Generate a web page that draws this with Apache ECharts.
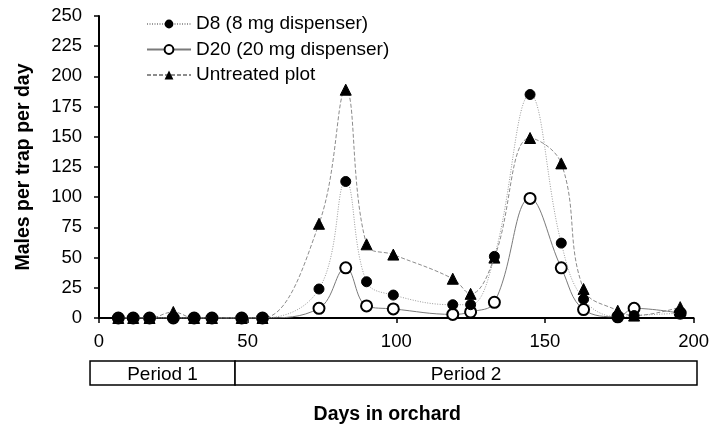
<!DOCTYPE html>
<html>
<head>
<meta charset="utf-8">
<script src="https://cdn.jsdelivr.net/npm/echarts@6/dist/echarts.min.js"></script>
<style>
  html, body { margin: 0; padding: 0; background: #fff; }
  #chart { width: 712px; height: 430px; }
</style>
</head>
<body>
<div id="chart"></div>
<script>
// Days of trap readings
const days = [6.5, 11.5, 17, 25, 32, 38, 48, 55, 74, 83, 90, 99, 119, 125, 133, 145, 155.5, 163, 174.5, 180, 195.5];
// Males per trap per day
const d8 = [0, 0, 0, 0, 0, 0, 0, 0, 24, 113, 30, 19, 11, 11, 51, 185, 62, 15.5, 1, 2, 4];
const d20 = [0, 0, 0, 0, 0, 0, 0, 0, 8, 41.5, 10, 7.5, 3, 5, 13, 99, 41.5, 7, 1, 8, 4];
const untreated = [0, 0, 0, 5, 0, 0, 0, 0, 78, 189, 61, 52.5, 32.5, 20, 50, 149, 128, 24, 6, 2, 9];
const seriesNames = ['D8 (8 mg dispenser)', 'D20 (20 mg dispenser)', 'Untreated plot'];
// Period bands along the day axis
const periodNames = ['Period 1', 'Period 2'];
const periodStart = [-3, 45.5];
const periodEnd = [45.5, 200];

const FONT = 'Liberation Sans, Arial, sans-serif';
const pair = (arr) => days.map((d, i) => [d, arr[i]]);

const chart = echarts.init(document.getElementById('chart'), null, { renderer: 'canvas' });

chart.setOption({
  animation: false,
  backgroundColor: '#ffffff',
  textStyle: { fontFamily: FONT },
  grid: [
    { left: 99, right: 15, top: 16, bottom: 112 },
    { left: 99, right: 15, top: 361, height: 24 }
  ],
  legend: {
    orient: 'vertical',
    left: 141,
    top: 9.5,
    itemWidth: 44,
    itemHeight: 11,
    itemGap: 6.5,
    data: seriesNames,
    textStyle: { fontFamily: FONT, fontSize: 19, color: '#000' }
  },
  xAxis: [
    {
      type: 'value', gridIndex: 0, min: 0, max: 200, interval: 50,
      name: 'Days in orchard', nameLocation: 'middle', nameGap: 87,
      nameTextStyle: { fontFamily: FONT, fontSize: 19.5, fontWeight: 'bold', color: '#000', padding: [0, 18, 0, 0] },
      axisLine: { show: true, onZero: false, lineStyle: { color: '#000', width: 2 } },
      axisTick: { show: true, length: 5, lineStyle: { color: '#000', width: 1.5 } },
      axisLabel: { fontFamily: FONT, fontSize: 18.5, color: '#000', margin: 14 },
      splitLine: { show: false }
    },
    { type: 'value', gridIndex: 1, min: 0, max: 200, show: false }
  ],
  yAxis: [
    {
      type: 'value', gridIndex: 0, min: 0, max: 250, interval: 25,
      name: 'Males per trap per day', nameLocation: 'middle', nameGap: 65,
      nameTextStyle: { fontFamily: FONT, fontSize: 19.5, fontWeight: 'bold', color: '#000' },
      axisLine: { show: true, lineStyle: { color: '#000', width: 2 } },
      axisTick: { show: true, length: 5, lineStyle: { color: '#000', width: 1.5 } },
      axisLabel: { fontFamily: FONT, fontSize: 18.5, color: '#000', margin: 17 },
      splitLine: { show: false }
    },
    { type: 'value', gridIndex: 1, min: 0, max: 1, show: false }
  ],
  series: [
    {
      name: seriesNames[2], type: 'line', xAxisIndex: 0, yAxisIndex: 0,
      data: pair(untreated), smooth: 0.4,
      symbol: 'triangle', symbolSize: 11,
      lineStyle: { color: '#8c8c8c', width: 1, type: [4, 2] },
      itemStyle: { color: '#000', borderColor: '#000' },
      z: 2
    },
    {
      name: seriesNames[1], type: 'line', xAxisIndex: 0, yAxisIndex: 0,
      data: pair(d20), smooth: 0.4,
      symbol: 'emptyCircle', symbolSize: 11,
      lineStyle: { color: '#7a7a7a', width: 1, type: 'solid' },
      itemStyle: { color: '#000', borderColor: '#000', borderWidth: 1.5 },
      z: 3
    },
    {
      name: seriesNames[0], type: 'line', xAxisIndex: 0, yAxisIndex: 0,
      data: pair(d8), smooth: 0.4,
      symbol: 'circle', symbolSize: 10,
      lineStyle: { color: '#9a9a9a', width: 1, type: [1, 1.5] },
      itemStyle: { color: '#000', borderColor: '#000' },
      z: 4
    },
    {
      name: 'periods', type: 'custom', xAxisIndex: 1, yAxisIndex: 1,
      clip: false, silent: true,
      data: periodNames.map((n, i) => [periodStart[i], periodEnd[i]]),
      renderItem: function (params, api) {
        const p0 = api.coord([api.value(0), 1]);
        const p1 = api.coord([api.value(1), 0]);
        return {
          type: 'group',
          children: [
            {
              type: 'rect',
              shape: { x: p0[0], y: p0[1], width: p1[0] - p0[0], height: p1[1] - p0[1] },
              style: { fill: '#fff', stroke: '#000', lineWidth: 1.5 }
            },
            {
              type: 'text',
              style: {
                text: periodNames[params.dataIndex],
                x: (p0[0] + p1[0]) / 2, y: (p0[1] + p1[1]) / 2 + 2,
                align: 'center', verticalAlign: 'middle',
                fontFamily: FONT, fontSize: 19, fill: '#000'
              }
            }
          ]
        };
      }
    }
  ]
});
</script>
</body>
</html>
